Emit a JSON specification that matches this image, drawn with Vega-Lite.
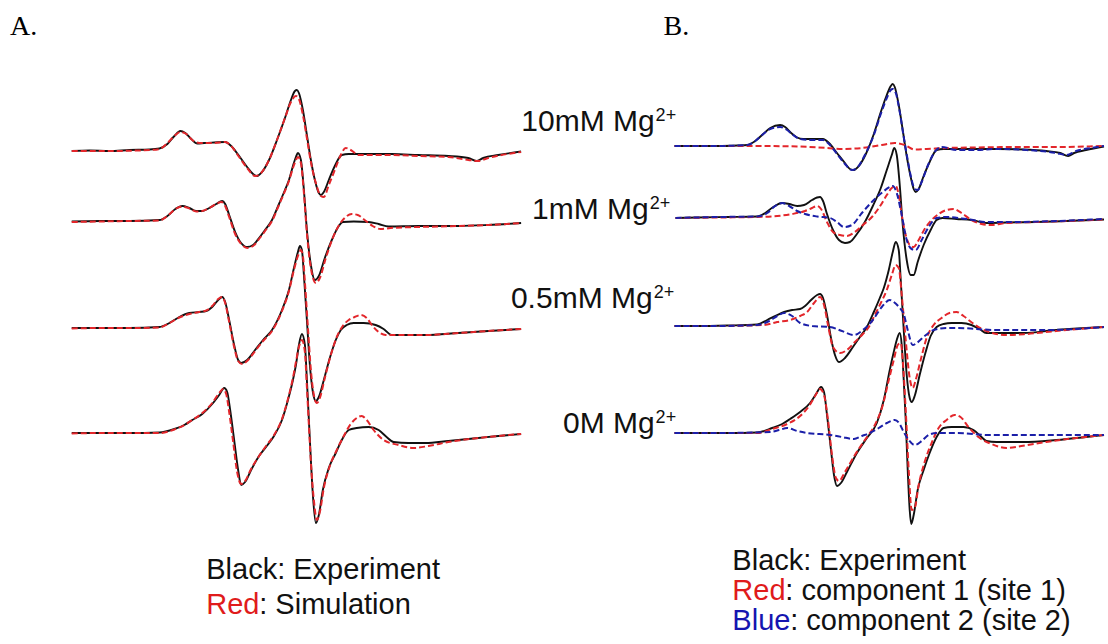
{
"$schema": "https://vega.github.io/schema/vega-lite/v6.json",
"width": 1108, "height": 644, "padding": 0,
"autosize": {"type": "fit", "contains": "padding"},
"background": "white",
"config": {"view": {"stroke": null}},
"datasets": {
"lines": [
{"s":"A10","t":"e","x":72,"y":151},{"s":"A10","t":"e","x":90,"y":150.5},{"s":"A10","t":"e","x":110,"y":151},{"s":"A10","t":"e","x":130,"y":150},{"s":"A10","t":"e","x":150,"y":149.5},{"s":"A10","t":"e","x":160,"y":148.5},{"s":"A10","t":"e","x":168,"y":144},{"s":"A10","t":"e","x":175,"y":136},{"s":"A10","t":"e","x":181,"y":131},{"s":"A10","t":"e","x":186,"y":133},{"s":"A10","t":"e","x":192,"y":139},{"s":"A10","t":"e","x":198,"y":143.5},{"s":"A10","t":"e","x":205,"y":143},{"s":"A10","t":"e","x":215,"y":142.5},{"s":"A10","t":"e","x":226,"y":142},{"s":"A10","t":"e","x":232,"y":146},{"s":"A10","t":"e","x":240,"y":156},{"s":"A10","t":"e","x":248,"y":167},{"s":"A10","t":"e","x":254,"y":174},{"s":"A10","t":"e","x":258,"y":176},{"s":"A10","t":"e","x":263,"y":172},{"s":"A10","t":"e","x":270,"y":160},{"s":"A10","t":"e","x":278,"y":140},{"s":"A10","t":"e","x":286,"y":118},{"s":"A10","t":"e","x":292,"y":100},{"s":"A10","t":"e","x":296,"y":91},{"s":"A10","t":"e","x":298,"y":90},{"s":"A10","t":"e","x":300,"y":93},{"s":"A10","t":"e","x":304,"y":110},{"s":"A10","t":"e","x":308,"y":135},{"s":"A10","t":"e","x":312,"y":160},{"s":"A10","t":"e","x":316,"y":180},{"s":"A10","t":"e","x":320,"y":193},{"s":"A10","t":"e","x":322,"y":195},{"s":"A10","t":"e","x":325,"y":192},{"s":"A10","t":"e","x":330,"y":180},{"s":"A10","t":"e","x":336,"y":166},{"s":"A10","t":"e","x":343,"y":155},{"s":"A10","t":"e","x":350,"y":154},{"s":"A10","t":"e","x":370,"y":154},{"s":"A10","t":"e","x":393,"y":154},{"s":"A10","t":"e","x":420,"y":155},{"s":"A10","t":"e","x":450,"y":156},{"s":"A10","t":"e","x":470,"y":158},{"s":"A10","t":"e","x":478,"y":161},{"s":"A10","t":"e","x":485,"y":158},{"s":"A10","t":"e","x":500,"y":155},{"s":"A10","t":"e","x":523,"y":151.5},
{"s":"A10","t":"s","x":72,"y":151},{"s":"A10","t":"s","x":110,"y":151},{"s":"A10","t":"s","x":150,"y":150},{"s":"A10","t":"s","x":160,"y":149},{"s":"A10","t":"s","x":168,"y":143},{"s":"A10","t":"s","x":175,"y":136},{"s":"A10","t":"s","x":181,"y":132},{"s":"A10","t":"s","x":187,"y":134},{"s":"A10","t":"s","x":193,"y":140},{"s":"A10","t":"s","x":200,"y":143},{"s":"A10","t":"s","x":215,"y":143},{"s":"A10","t":"s","x":226,"y":142},{"s":"A10","t":"s","x":232,"y":146},{"s":"A10","t":"s","x":240,"y":157},{"s":"A10","t":"s","x":248,"y":168},{"s":"A10","t":"s","x":256,"y":176},{"s":"A10","t":"s","x":262,"y":173},{"s":"A10","t":"s","x":270,"y":160},{"s":"A10","t":"s","x":278,"y":140},{"s":"A10","t":"s","x":286,"y":118},{"s":"A10","t":"s","x":292,"y":102},{"s":"A10","t":"s","x":297,"y":96},{"s":"A10","t":"s","x":300,"y":99},{"s":"A10","t":"s","x":304,"y":115},{"s":"A10","t":"s","x":308,"y":138},{"s":"A10","t":"s","x":312,"y":162},{"s":"A10","t":"s","x":317,"y":183},{"s":"A10","t":"s","x":322,"y":196},{"s":"A10","t":"s","x":325,"y":197},{"s":"A10","t":"s","x":330,"y":185},{"s":"A10","t":"s","x":336,"y":170},{"s":"A10","t":"s","x":342,"y":155},{"s":"A10","t":"s","x":347,"y":148},{"s":"A10","t":"s","x":352,"y":150},{"s":"A10","t":"s","x":360,"y":155},{"s":"A10","t":"s","x":390,"y":155},{"s":"A10","t":"s","x":420,"y":156},{"s":"A10","t":"s","x":450,"y":157},{"s":"A10","t":"s","x":470,"y":160},{"s":"A10","t":"s","x":480,"y":161},{"s":"A10","t":"s","x":490,"y":158},{"s":"A10","t":"s","x":523,"y":152},
{"s":"A1","t":"e","x":72,"y":221.5},{"s":"A1","t":"e","x":100,"y":221},{"s":"A1","t":"e","x":130,"y":221},{"s":"A1","t":"e","x":160,"y":220},{"s":"A1","t":"e","x":168,"y":216},{"s":"A1","t":"e","x":176,"y":209},{"s":"A1","t":"e","x":183,"y":206},{"s":"A1","t":"e","x":190,"y":208},{"s":"A1","t":"e","x":197,"y":211},{"s":"A1","t":"e","x":203,"y":211},{"s":"A1","t":"e","x":210,"y":208},{"s":"A1","t":"e","x":217,"y":204},{"s":"A1","t":"e","x":223,"y":201},{"s":"A1","t":"e","x":226,"y":204},{"s":"A1","t":"e","x":230,"y":215},{"s":"A1","t":"e","x":236,"y":232},{"s":"A1","t":"e","x":242,"y":243},{"s":"A1","t":"e","x":248,"y":247},{"s":"A1","t":"e","x":254,"y":245},{"s":"A1","t":"e","x":260,"y":238},{"s":"A1","t":"e","x":266,"y":230},{"s":"A1","t":"e","x":273,"y":220},{"s":"A1","t":"e","x":280,"y":204},{"s":"A1","t":"e","x":286,"y":190},{"s":"A1","t":"e","x":290,"y":180},{"s":"A1","t":"e","x":294,"y":166},{"s":"A1","t":"e","x":297,"y":157},{"s":"A1","t":"e","x":299,"y":153},{"s":"A1","t":"e","x":302,"y":160},{"s":"A1","t":"e","x":305,"y":190},{"s":"A1","t":"e","x":308,"y":230},{"s":"A1","t":"e","x":312,"y":265},{"s":"A1","t":"e","x":316,"y":280},{"s":"A1","t":"e","x":320,"y":276},{"s":"A1","t":"e","x":326,"y":258},{"s":"A1","t":"e","x":333,"y":240},{"s":"A1","t":"e","x":340,"y":226},{"s":"A1","t":"e","x":344,"y":222},{"s":"A1","t":"e","x":355,"y":221.5},{"s":"A1","t":"e","x":370,"y":222},{"s":"A1","t":"e","x":380,"y":224},{"s":"A1","t":"e","x":390,"y":226.5},{"s":"A1","t":"e","x":420,"y":226},{"s":"A1","t":"e","x":460,"y":226},{"s":"A1","t":"e","x":490,"y":225},{"s":"A1","t":"e","x":523,"y":223},
{"s":"A1","t":"s","x":72,"y":222},{"s":"A1","t":"s","x":100,"y":221.5},{"s":"A1","t":"s","x":130,"y":221},{"s":"A1","t":"s","x":160,"y":220.5},{"s":"A1","t":"s","x":168,"y":216},{"s":"A1","t":"s","x":176,"y":209},{"s":"A1","t":"s","x":183,"y":206.5},{"s":"A1","t":"s","x":190,"y":208.5},{"s":"A1","t":"s","x":197,"y":211.5},{"s":"A1","t":"s","x":203,"y":211},{"s":"A1","t":"s","x":210,"y":208},{"s":"A1","t":"s","x":217,"y":204},{"s":"A1","t":"s","x":222,"y":202},{"s":"A1","t":"s","x":226,"y":206},{"s":"A1","t":"s","x":230,"y":217},{"s":"A1","t":"s","x":236,"y":234},{"s":"A1","t":"s","x":242,"y":244},{"s":"A1","t":"s","x":248,"y":248},{"s":"A1","t":"s","x":254,"y":246},{"s":"A1","t":"s","x":260,"y":239},{"s":"A1","t":"s","x":266,"y":231},{"s":"A1","t":"s","x":273,"y":221},{"s":"A1","t":"s","x":280,"y":205},{"s":"A1","t":"s","x":286,"y":191},{"s":"A1","t":"s","x":290,"y":181},{"s":"A1","t":"s","x":294,"y":168},{"s":"A1","t":"s","x":297,"y":160},{"s":"A1","t":"s","x":299,"y":157},{"s":"A1","t":"s","x":302,"y":163},{"s":"A1","t":"s","x":305,"y":193},{"s":"A1","t":"s","x":308,"y":233},{"s":"A1","t":"s","x":312,"y":268},{"s":"A1","t":"s","x":317,"y":283},{"s":"A1","t":"s","x":321,"y":278},{"s":"A1","t":"s","x":327,"y":258},{"s":"A1","t":"s","x":334,"y":238},{"s":"A1","t":"s","x":341,"y":224},{"s":"A1","t":"s","x":347,"y":217},{"s":"A1","t":"s","x":353,"y":214},{"s":"A1","t":"s","x":359,"y":215},{"s":"A1","t":"s","x":366,"y":220},{"s":"A1","t":"s","x":374,"y":226},{"s":"A1","t":"s","x":382,"y":229},{"s":"A1","t":"s","x":392,"y":228},{"s":"A1","t":"s","x":420,"y":227},{"s":"A1","t":"s","x":460,"y":226},{"s":"A1","t":"s","x":490,"y":225},{"s":"A1","t":"s","x":523,"y":223},
{"s":"A05","t":"e","x":72,"y":328},{"s":"A05","t":"e","x":100,"y":328},{"s":"A05","t":"e","x":130,"y":328},{"s":"A05","t":"e","x":160,"y":327},{"s":"A05","t":"e","x":170,"y":323},{"s":"A05","t":"e","x":180,"y":317},{"s":"A05","t":"e","x":190,"y":313},{"s":"A05","t":"e","x":200,"y":312},{"s":"A05","t":"e","x":207,"y":311},{"s":"A05","t":"e","x":213,"y":307},{"s":"A05","t":"e","x":219,"y":300},{"s":"A05","t":"e","x":223,"y":297},{"s":"A05","t":"e","x":226,"y":302},{"s":"A05","t":"e","x":230,"y":320},{"s":"A05","t":"e","x":235,"y":345},{"s":"A05","t":"e","x":239,"y":360},{"s":"A05","t":"e","x":242,"y":363},{"s":"A05","t":"e","x":248,"y":360},{"s":"A05","t":"e","x":256,"y":350},{"s":"A05","t":"e","x":264,"y":340},{"s":"A05","t":"e","x":273,"y":330},{"s":"A05","t":"e","x":283,"y":310},{"s":"A05","t":"e","x":290,"y":290},{"s":"A05","t":"e","x":295,"y":268},{"s":"A05","t":"e","x":299,"y":252},{"s":"A05","t":"e","x":301,"y":246},{"s":"A05","t":"e","x":303,"y":250},{"s":"A05","t":"e","x":305,"y":275},{"s":"A05","t":"e","x":308,"y":320},{"s":"A05","t":"e","x":311,"y":365},{"s":"A05","t":"e","x":314,"y":392},{"s":"A05","t":"e","x":317,"y":401},{"s":"A05","t":"e","x":320,"y":397},{"s":"A05","t":"e","x":325,"y":380},{"s":"A05","t":"e","x":331,"y":358},{"s":"A05","t":"e","x":337,"y":340},{"s":"A05","t":"e","x":342,"y":330},{"s":"A05","t":"e","x":348,"y":325},{"s":"A05","t":"e","x":355,"y":323},{"s":"A05","t":"e","x":365,"y":323},{"s":"A05","t":"e","x":377,"y":325},{"s":"A05","t":"e","x":385,"y":329},{"s":"A05","t":"e","x":393,"y":335},{"s":"A05","t":"e","x":410,"y":335},{"s":"A05","t":"e","x":427,"y":335},{"s":"A05","t":"e","x":460,"y":333},{"s":"A05","t":"e","x":490,"y":331},{"s":"A05","t":"e","x":523,"y":329},
{"s":"A05","t":"s","x":72,"y":328.5},{"s":"A05","t":"s","x":100,"y":328},{"s":"A05","t":"s","x":130,"y":328},{"s":"A05","t":"s","x":160,"y":327.5},{"s":"A05","t":"s","x":170,"y":323},{"s":"A05","t":"s","x":180,"y":317.5},{"s":"A05","t":"s","x":190,"y":314},{"s":"A05","t":"s","x":200,"y":312},{"s":"A05","t":"s","x":207,"y":310.5},{"s":"A05","t":"s","x":213,"y":306},{"s":"A05","t":"s","x":219,"y":299},{"s":"A05","t":"s","x":223,"y":297},{"s":"A05","t":"s","x":226,"y":303},{"s":"A05","t":"s","x":230,"y":322},{"s":"A05","t":"s","x":235,"y":347},{"s":"A05","t":"s","x":239,"y":361},{"s":"A05","t":"s","x":243,"y":364},{"s":"A05","t":"s","x":249,"y":360},{"s":"A05","t":"s","x":256,"y":351},{"s":"A05","t":"s","x":264,"y":341},{"s":"A05","t":"s","x":273,"y":331},{"s":"A05","t":"s","x":283,"y":311},{"s":"A05","t":"s","x":290,"y":291},{"s":"A05","t":"s","x":295,"y":270},{"s":"A05","t":"s","x":299,"y":256},{"s":"A05","t":"s","x":302,"y":250},{"s":"A05","t":"s","x":304,"y":256},{"s":"A05","t":"s","x":306,"y":282},{"s":"A05","t":"s","x":309,"y":327},{"s":"A05","t":"s","x":312,"y":370},{"s":"A05","t":"s","x":315,"y":395},{"s":"A05","t":"s","x":318,"y":403},{"s":"A05","t":"s","x":321,"y":398},{"s":"A05","t":"s","x":326,"y":378},{"s":"A05","t":"s","x":332,"y":355},{"s":"A05","t":"s","x":338,"y":337},{"s":"A05","t":"s","x":344,"y":326},{"s":"A05","t":"s","x":350,"y":320},{"s":"A05","t":"s","x":356,"y":317},{"s":"A05","t":"s","x":362,"y":315},{"s":"A05","t":"s","x":368,"y":318},{"s":"A05","t":"s","x":374,"y":326},{"s":"A05","t":"s","x":380,"y":332},{"s":"A05","t":"s","x":387,"y":335},{"s":"A05","t":"s","x":400,"y":335},{"s":"A05","t":"s","x":427,"y":335},{"s":"A05","t":"s","x":460,"y":333},{"s":"A05","t":"s","x":490,"y":331},{"s":"A05","t":"s","x":523,"y":329},
{"s":"A0","t":"e","x":72,"y":433},{"s":"A0","t":"e","x":100,"y":433},{"s":"A0","t":"e","x":130,"y":433},{"s":"A0","t":"e","x":160,"y":432.5},{"s":"A0","t":"e","x":175,"y":429},{"s":"A0","t":"e","x":185,"y":425},{"s":"A0","t":"e","x":193,"y":420},{"s":"A0","t":"e","x":203,"y":414},{"s":"A0","t":"e","x":213,"y":404},{"s":"A0","t":"e","x":220,"y":395},{"s":"A0","t":"e","x":225,"y":388},{"s":"A0","t":"e","x":228,"y":392},{"s":"A0","t":"e","x":231,"y":410},{"s":"A0","t":"e","x":235,"y":440},{"s":"A0","t":"e","x":239,"y":470},{"s":"A0","t":"e","x":242,"y":485},{"s":"A0","t":"e","x":246,"y":482},{"s":"A0","t":"e","x":252,"y":470},{"s":"A0","t":"e","x":260,"y":456},{"s":"A0","t":"e","x":267,"y":447},{"s":"A0","t":"e","x":275,"y":436},{"s":"A0","t":"e","x":283,"y":420},{"s":"A0","t":"e","x":289,"y":400},{"s":"A0","t":"e","x":294,"y":380},{"s":"A0","t":"e","x":297,"y":365},{"s":"A0","t":"e","x":300,"y":345},{"s":"A0","t":"e","x":303,"y":334},{"s":"A0","t":"e","x":306,"y":345},{"s":"A0","t":"e","x":308,"y":380},{"s":"A0","t":"e","x":310,"y":420},{"s":"A0","t":"e","x":312,"y":460},{"s":"A0","t":"e","x":314,"y":495},{"s":"A0","t":"e","x":317,"y":523},{"s":"A0","t":"e","x":320,"y":515},{"s":"A0","t":"e","x":324,"y":490},{"s":"A0","t":"e","x":330,"y":468},{"s":"A0","t":"e","x":337,"y":453},{"s":"A0","t":"e","x":343,"y":440},{"s":"A0","t":"e","x":350,"y":430},{"s":"A0","t":"e","x":358,"y":428},{"s":"A0","t":"e","x":370,"y":427},{"s":"A0","t":"e","x":380,"y":430},{"s":"A0","t":"e","x":388,"y":437},{"s":"A0","t":"e","x":395,"y":442},{"s":"A0","t":"e","x":410,"y":443},{"s":"A0","t":"e","x":427,"y":443},{"s":"A0","t":"e","x":450,"y":441},{"s":"A0","t":"e","x":480,"y":438},{"s":"A0","t":"e","x":500,"y":436},{"s":"A0","t":"e","x":523,"y":434},
{"s":"A0","t":"s","x":72,"y":433.5},{"s":"A0","t":"s","x":100,"y":433},{"s":"A0","t":"s","x":130,"y":433},{"s":"A0","t":"s","x":160,"y":433},{"s":"A0","t":"s","x":175,"y":429.5},{"s":"A0","t":"s","x":185,"y":425},{"s":"A0","t":"s","x":193,"y":420},{"s":"A0","t":"s","x":203,"y":413},{"s":"A0","t":"s","x":213,"y":403},{"s":"A0","t":"s","x":220,"y":393},{"s":"A0","t":"s","x":224,"y":389},{"s":"A0","t":"s","x":227,"y":394},{"s":"A0","t":"s","x":230,"y":412},{"s":"A0","t":"s","x":234,"y":442},{"s":"A0","t":"s","x":238,"y":472},{"s":"A0","t":"s","x":242,"y":484},{"s":"A0","t":"s","x":246,"y":481},{"s":"A0","t":"s","x":252,"y":469},{"s":"A0","t":"s","x":260,"y":456},{"s":"A0","t":"s","x":267,"y":446},{"s":"A0","t":"s","x":275,"y":435},{"s":"A0","t":"s","x":283,"y":419},{"s":"A0","t":"s","x":289,"y":399},{"s":"A0","t":"s","x":294,"y":378},{"s":"A0","t":"s","x":297,"y":362},{"s":"A0","t":"s","x":300,"y":347},{"s":"A0","t":"s","x":303,"y":340},{"s":"A0","t":"s","x":306,"y":352},{"s":"A0","t":"s","x":308,"y":387},{"s":"A0","t":"s","x":310,"y":425},{"s":"A0","t":"s","x":312,"y":462},{"s":"A0","t":"s","x":315,"y":500},{"s":"A0","t":"s","x":318,"y":520},{"s":"A0","t":"s","x":321,"y":512},{"s":"A0","t":"s","x":325,"y":488},{"s":"A0","t":"s","x":331,"y":466},{"s":"A0","t":"s","x":338,"y":450},{"s":"A0","t":"s","x":345,"y":436},{"s":"A0","t":"s","x":352,"y":424},{"s":"A0","t":"s","x":358,"y":418},{"s":"A0","t":"s","x":363,"y":416},{"s":"A0","t":"s","x":368,"y":420},{"s":"A0","t":"s","x":375,"y":430},{"s":"A0","t":"s","x":385,"y":440},{"s":"A0","t":"s","x":400,"y":445},{"s":"A0","t":"s","x":415,"y":448},{"s":"A0","t":"s","x":430,"y":446},{"s":"A0","t":"s","x":450,"y":442},{"s":"A0","t":"s","x":480,"y":438},{"s":"A0","t":"s","x":500,"y":436},{"s":"A0","t":"s","x":523,"y":434},
{"s":"B10","t":"e","x":677,"y":146},{"s":"B10","t":"e","x":700,"y":146},{"s":"B10","t":"e","x":720,"y":146},{"s":"B10","t":"e","x":740,"y":145.5},{"s":"B10","t":"e","x":750,"y":145},{"s":"B10","t":"e","x":758,"y":141},{"s":"B10","t":"e","x":766,"y":134},{"s":"B10","t":"e","x":773,"y":128},{"s":"B10","t":"e","x":783,"y":125},{"s":"B10","t":"e","x":788,"y":127},{"s":"B10","t":"e","x":794,"y":133},{"s":"B10","t":"e","x":800,"y":137.5},{"s":"B10","t":"e","x":806,"y":139},{"s":"B10","t":"e","x":815,"y":139},{"s":"B10","t":"e","x":826,"y":139},{"s":"B10","t":"e","x":832,"y":143},{"s":"B10","t":"e","x":840,"y":153},{"s":"B10","t":"e","x":848,"y":163},{"s":"B10","t":"e","x":853,"y":169},{"s":"B10","t":"e","x":857,"y":170},{"s":"B10","t":"e","x":862,"y":166},{"s":"B10","t":"e","x":869,"y":154},{"s":"B10","t":"e","x":877,"y":134},{"s":"B10","t":"e","x":884,"y":112},{"s":"B10","t":"e","x":890,"y":95},{"s":"B10","t":"e","x":894,"y":86},{"s":"B10","t":"e","x":896,"y":84},{"s":"B10","t":"e","x":898,"y":87},{"s":"B10","t":"e","x":902,"y":105},{"s":"B10","t":"e","x":906,"y":130},{"s":"B10","t":"e","x":910,"y":156},{"s":"B10","t":"e","x":914,"y":177},{"s":"B10","t":"e","x":917,"y":189},{"s":"B10","t":"e","x":919,"y":192},{"s":"B10","t":"e","x":922,"y":189},{"s":"B10","t":"e","x":927,"y":176},{"s":"B10","t":"e","x":933,"y":162},{"s":"B10","t":"e","x":940,"y":150},{"s":"B10","t":"e","x":947,"y":149},{"s":"B10","t":"e","x":960,"y":149},{"s":"B10","t":"e","x":980,"y":149},{"s":"B10","t":"e","x":1000,"y":149},{"s":"B10","t":"e","x":1027,"y":149.5},{"s":"B10","t":"e","x":1050,"y":151},{"s":"B10","t":"e","x":1064,"y":153},{"s":"B10","t":"e","x":1072,"y":156},{"s":"B10","t":"e","x":1078,"y":153},{"s":"B10","t":"e","x":1090,"y":150},{"s":"B10","t":"e","x":1108,"y":146.5},
{"s":"B10","t":"b","x":677,"y":146},{"s":"B10","t":"b","x":720,"y":146},{"s":"B10","t":"b","x":750,"y":145},{"s":"B10","t":"b","x":758,"y":141},{"s":"B10","t":"b","x":766,"y":134},{"s":"B10","t":"b","x":773,"y":129},{"s":"B10","t":"b","x":783,"y":127},{"s":"B10","t":"b","x":790,"y":130},{"s":"B10","t":"b","x":796,"y":135},{"s":"B10","t":"b","x":803,"y":139},{"s":"B10","t":"b","x":815,"y":140},{"s":"B10","t":"b","x":826,"y":140},{"s":"B10","t":"b","x":832,"y":144},{"s":"B10","t":"b","x":840,"y":154},{"s":"B10","t":"b","x":848,"y":164},{"s":"B10","t":"b","x":855,"y":170},{"s":"B10","t":"b","x":860,"y":168},{"s":"B10","t":"b","x":868,"y":155},{"s":"B10","t":"b","x":877,"y":135},{"s":"B10","t":"b","x":884,"y":114},{"s":"B10","t":"b","x":890,"y":98},{"s":"B10","t":"b","x":894,"y":90},{"s":"B10","t":"b","x":896,"y":89},{"s":"B10","t":"b","x":899,"y":93},{"s":"B10","t":"b","x":903,"y":112},{"s":"B10","t":"b","x":907,"y":137},{"s":"B10","t":"b","x":911,"y":160},{"s":"B10","t":"b","x":915,"y":180},{"s":"B10","t":"b","x":918,"y":189},{"s":"B10","t":"b","x":921,"y":190},{"s":"B10","t":"b","x":925,"y":182},{"s":"B10","t":"b","x":931,"y":166},{"s":"B10","t":"b","x":938,"y":152},{"s":"B10","t":"b","x":945,"y":147},{"s":"B10","t":"b","x":960,"y":150},{"s":"B10","t":"b","x":980,"y":150},{"s":"B10","t":"b","x":1000,"y":149},{"s":"B10","t":"b","x":1030,"y":150},{"s":"B10","t":"b","x":1060,"y":153},{"s":"B10","t":"b","x":1070,"y":155},{"s":"B10","t":"b","x":1080,"y":151},{"s":"B10","t":"b","x":1095,"y":148},{"s":"B10","t":"b","x":1108,"y":146},
{"s":"B10","t":"s","x":677,"y":146},{"s":"B10","t":"s","x":720,"y":146},{"s":"B10","t":"s","x":760,"y":146},{"s":"B10","t":"s","x":800,"y":146.5},{"s":"B10","t":"s","x":830,"y":148},{"s":"B10","t":"s","x":845,"y":149},{"s":"B10","t":"s","x":865,"y":148},{"s":"B10","t":"s","x":885,"y":145},{"s":"B10","t":"s","x":898,"y":143},{"s":"B10","t":"s","x":908,"y":145},{"s":"B10","t":"s","x":918,"y":149.5},{"s":"B10","t":"s","x":930,"y":149},{"s":"B10","t":"s","x":950,"y":148},{"s":"B10","t":"s","x":980,"y":147.5},{"s":"B10","t":"s","x":1020,"y":147},{"s":"B10","t":"s","x":1060,"y":147},{"s":"B10","t":"s","x":1108,"y":146},
{"s":"B1","t":"e","x":678,"y":218},{"s":"B1","t":"e","x":700,"y":217.5},{"s":"B1","t":"e","x":730,"y":217},{"s":"B1","t":"e","x":760,"y":216.5},{"s":"B1","t":"e","x":768,"y":213},{"s":"B1","t":"e","x":776,"y":207},{"s":"B1","t":"e","x":785,"y":203},{"s":"B1","t":"e","x":792,"y":204},{"s":"B1","t":"e","x":800,"y":206},{"s":"B1","t":"e","x":807,"y":205},{"s":"B1","t":"e","x":815,"y":200},{"s":"B1","t":"e","x":820,"y":197.5},{"s":"B1","t":"e","x":823,"y":197},{"s":"B1","t":"e","x":826,"y":201},{"s":"B1","t":"e","x":830,"y":214},{"s":"B1","t":"e","x":836,"y":230},{"s":"B1","t":"e","x":842,"y":240},{"s":"B1","t":"e","x":848,"y":243},{"s":"B1","t":"e","x":853,"y":242},{"s":"B1","t":"e","x":860,"y":234},{"s":"B1","t":"e","x":868,"y":222},{"s":"B1","t":"e","x":876,"y":206},{"s":"B1","t":"e","x":884,"y":188},{"s":"B1","t":"e","x":890,"y":170},{"s":"B1","t":"e","x":895,"y":155},{"s":"B1","t":"e","x":897.5,"y":148},{"s":"B1","t":"e","x":900,"y":155},{"s":"B1","t":"e","x":903,"y":185},{"s":"B1","t":"e","x":906,"y":225},{"s":"B1","t":"e","x":910,"y":260},{"s":"B1","t":"e","x":914,"y":275},{"s":"B1","t":"e","x":917,"y":275},{"s":"B1","t":"e","x":921,"y":262},{"s":"B1","t":"e","x":927,"y":245},{"s":"B1","t":"e","x":934,"y":230},{"s":"B1","t":"e","x":940,"y":220},{"s":"B1","t":"e","x":946,"y":218},{"s":"B1","t":"e","x":960,"y":219},{"s":"B1","t":"e","x":975,"y":220},{"s":"B1","t":"e","x":990,"y":223},{"s":"B1","t":"e","x":1010,"y":222.5},{"s":"B1","t":"e","x":1040,"y":222},{"s":"B1","t":"e","x":1070,"y":221},{"s":"B1","t":"e","x":1108,"y":219.5},
{"s":"B1","t":"b","x":678,"y":218},{"s":"B1","t":"b","x":720,"y":217},{"s":"B1","t":"b","x":760,"y":216.5},{"s":"B1","t":"b","x":770,"y":213},{"s":"B1","t":"b","x":778,"y":206},{"s":"B1","t":"b","x":785,"y":203},{"s":"B1","t":"b","x":792,"y":206},{"s":"B1","t":"b","x":800,"y":211},{"s":"B1","t":"b","x":808,"y":214},{"s":"B1","t":"b","x":820,"y":216.5},{"s":"B1","t":"b","x":833,"y":218},{"s":"B1","t":"b","x":840,"y":222},{"s":"B1","t":"b","x":847,"y":227},{"s":"B1","t":"b","x":855,"y":225},{"s":"B1","t":"b","x":865,"y":213},{"s":"B1","t":"b","x":877,"y":200},{"s":"B1","t":"b","x":886,"y":192},{"s":"B1","t":"b","x":893,"y":187},{"s":"B1","t":"b","x":896,"y":186},{"s":"B1","t":"b","x":900,"y":193},{"s":"B1","t":"b","x":905,"y":215},{"s":"B1","t":"b","x":910,"y":240},{"s":"B1","t":"b","x":915,"y":249},{"s":"B1","t":"b","x":919,"y":250},{"s":"B1","t":"b","x":925,"y":240},{"s":"B1","t":"b","x":932,"y":227},{"s":"B1","t":"b","x":940,"y":218},{"s":"B1","t":"b","x":950,"y":217},{"s":"B1","t":"b","x":970,"y":219},{"s":"B1","t":"b","x":990,"y":222},{"s":"B1","t":"b","x":1020,"y":222},{"s":"B1","t":"b","x":1060,"y":221},{"s":"B1","t":"b","x":1108,"y":219},
{"s":"B1","t":"s","x":678,"y":218},{"s":"B1","t":"s","x":720,"y":217.5},{"s":"B1","t":"s","x":760,"y":217},{"s":"B1","t":"s","x":780,"y":216},{"s":"B1","t":"s","x":795,"y":214},{"s":"B1","t":"s","x":808,"y":211},{"s":"B1","t":"s","x":815,"y":208},{"s":"B1","t":"s","x":820,"y":206},{"s":"B1","t":"s","x":824,"y":209},{"s":"B1","t":"s","x":830,"y":222},{"s":"B1","t":"s","x":836,"y":232},{"s":"B1","t":"s","x":843,"y":235},{"s":"B1","t":"s","x":850,"y":236},{"s":"B1","t":"s","x":858,"y":232},{"s":"B1","t":"s","x":866,"y":225},{"s":"B1","t":"s","x":876,"y":216},{"s":"B1","t":"s","x":884,"y":205},{"s":"B1","t":"s","x":890,"y":195},{"s":"B1","t":"s","x":895,"y":188},{"s":"B1","t":"s","x":899,"y":186},{"s":"B1","t":"s","x":902,"y":195},{"s":"B1","t":"s","x":905,"y":215},{"s":"B1","t":"s","x":909,"y":235},{"s":"B1","t":"s","x":913,"y":245},{"s":"B1","t":"s","x":917,"y":247},{"s":"B1","t":"s","x":922,"y":240},{"s":"B1","t":"s","x":928,"y":229},{"s":"B1","t":"s","x":935,"y":220},{"s":"B1","t":"s","x":942,"y":214},{"s":"B1","t":"s","x":950,"y":210},{"s":"B1","t":"s","x":957,"y":209},{"s":"B1","t":"s","x":965,"y":213},{"s":"B1","t":"s","x":975,"y":220},{"s":"B1","t":"s","x":985,"y":224},{"s":"B1","t":"s","x":995,"y":225},{"s":"B1","t":"s","x":1010,"y":223},{"s":"B1","t":"s","x":1040,"y":222},{"s":"B1","t":"s","x":1070,"y":221},{"s":"B1","t":"s","x":1108,"y":219.5},
{"s":"B05","t":"e","x":677,"y":326},{"s":"B05","t":"e","x":700,"y":326},{"s":"B05","t":"e","x":730,"y":325.5},{"s":"B05","t":"e","x":760,"y":324.5},{"s":"B05","t":"e","x":770,"y":320},{"s":"B05","t":"e","x":780,"y":315},{"s":"B05","t":"e","x":787,"y":312},{"s":"B05","t":"e","x":795,"y":310},{"s":"B05","t":"e","x":803,"y":309},{"s":"B05","t":"e","x":808,"y":306},{"s":"B05","t":"e","x":814,"y":300},{"s":"B05","t":"e","x":820,"y":295},{"s":"B05","t":"e","x":823,"y":294},{"s":"B05","t":"e","x":826,"y":298},{"s":"B05","t":"e","x":830,"y":315},{"s":"B05","t":"e","x":834,"y":338},{"s":"B05","t":"e","x":838,"y":355},{"s":"B05","t":"e","x":842,"y":362},{"s":"B05","t":"e","x":848,"y":358},{"s":"B05","t":"e","x":856,"y":347},{"s":"B05","t":"e","x":863,"y":337},{"s":"B05","t":"e","x":870,"y":327},{"s":"B05","t":"e","x":877,"y":312},{"s":"B05","t":"e","x":883,"y":298},{"s":"B05","t":"e","x":887,"y":288},{"s":"B05","t":"e","x":892,"y":270},{"s":"B05","t":"e","x":896,"y":252},{"s":"B05","t":"e","x":899,"y":242},{"s":"B05","t":"e","x":902,"y":250},{"s":"B05","t":"e","x":904,"y":280},{"s":"B05","t":"e","x":907,"y":330},{"s":"B05","t":"e","x":910,"y":375},{"s":"B05","t":"e","x":913,"y":398},{"s":"B05","t":"e","x":915,"y":402},{"s":"B05","t":"e","x":918,"y":396},{"s":"B05","t":"e","x":923,"y":375},{"s":"B05","t":"e","x":929,"y":352},{"s":"B05","t":"e","x":934,"y":336},{"s":"B05","t":"e","x":940,"y":327},{"s":"B05","t":"e","x":947,"y":324},{"s":"B05","t":"e","x":955,"y":323},{"s":"B05","t":"e","x":965,"y":323},{"s":"B05","t":"e","x":975,"y":325},{"s":"B05","t":"e","x":983,"y":329},{"s":"B05","t":"e","x":990,"y":333},{"s":"B05","t":"e","x":1010,"y":333},{"s":"B05","t":"e","x":1027,"y":333},{"s":"B05","t":"e","x":1060,"y":330},{"s":"B05","t":"e","x":1090,"y":328},{"s":"B05","t":"e","x":1108,"y":327},
{"s":"B05","t":"b","x":677,"y":326},{"s":"B05","t":"b","x":720,"y":326},{"s":"B05","t":"b","x":760,"y":325},{"s":"B05","t":"b","x":772,"y":321},{"s":"B05","t":"b","x":780,"y":316},{"s":"B05","t":"b","x":787,"y":313},{"s":"B05","t":"b","x":795,"y":316},{"s":"B05","t":"b","x":803,"y":323},{"s":"B05","t":"b","x":815,"y":326},{"s":"B05","t":"b","x":833,"y":327},{"s":"B05","t":"b","x":845,"y":331},{"s":"B05","t":"b","x":857,"y":335},{"s":"B05","t":"b","x":866,"y":330},{"s":"B05","t":"b","x":876,"y":320},{"s":"B05","t":"b","x":885,"y":307},{"s":"B05","t":"b","x":893,"y":300},{"s":"B05","t":"b","x":897,"y":302},{"s":"B05","t":"b","x":903,"y":308},{"s":"B05","t":"b","x":907,"y":314},{"s":"B05","t":"b","x":911,"y":330},{"s":"B05","t":"b","x":916,"y":345},{"s":"B05","t":"b","x":920,"y":343},{"s":"B05","t":"b","x":928,"y":336},{"s":"B05","t":"b","x":937,"y":330},{"s":"B05","t":"b","x":950,"y":328},{"s":"B05","t":"b","x":960,"y":328},{"s":"B05","t":"b","x":1000,"y":330},{"s":"B05","t":"b","x":1050,"y":330},{"s":"B05","t":"b","x":1108,"y":327},
{"s":"B05","t":"s","x":677,"y":326},{"s":"B05","t":"s","x":720,"y":326},{"s":"B05","t":"s","x":767,"y":325},{"s":"B05","t":"s","x":780,"y":322},{"s":"B05","t":"s","x":793,"y":320},{"s":"B05","t":"s","x":803,"y":316},{"s":"B05","t":"s","x":810,"y":312},{"s":"B05","t":"s","x":817,"y":303},{"s":"B05","t":"s","x":823,"y":297},{"s":"B05","t":"s","x":827,"y":305},{"s":"B05","t":"s","x":831,"y":325},{"s":"B05","t":"s","x":836,"y":347},{"s":"B05","t":"s","x":843,"y":353},{"s":"B05","t":"s","x":850,"y":350},{"s":"B05","t":"s","x":858,"y":342},{"s":"B05","t":"s","x":866,"y":334},{"s":"B05","t":"s","x":872,"y":327},{"s":"B05","t":"s","x":878,"y":315},{"s":"B05","t":"s","x":884,"y":303},{"s":"B05","t":"s","x":890,"y":290},{"s":"B05","t":"s","x":895,"y":275},{"s":"B05","t":"s","x":899,"y":265},{"s":"B05","t":"s","x":902,"y":268},{"s":"B05","t":"s","x":905,"y":295},{"s":"B05","t":"s","x":909,"y":340},{"s":"B05","t":"s","x":913,"y":378},{"s":"B05","t":"s","x":916,"y":388},{"s":"B05","t":"s","x":919,"y":380},{"s":"B05","t":"s","x":924,"y":360},{"s":"B05","t":"s","x":930,"y":338},{"s":"B05","t":"s","x":937,"y":325},{"s":"B05","t":"s","x":945,"y":318},{"s":"B05","t":"s","x":953,"y":313},{"s":"B05","t":"s","x":960,"y":312},{"s":"B05","t":"s","x":967,"y":316},{"s":"B05","t":"s","x":976,"y":323},{"s":"B05","t":"s","x":990,"y":331},{"s":"B05","t":"s","x":1010,"y":335},{"s":"B05","t":"s","x":1030,"y":334},{"s":"B05","t":"s","x":1060,"y":331},{"s":"B05","t":"s","x":1108,"y":327},
{"s":"B0","t":"e","x":677,"y":433},{"s":"B0","t":"e","x":700,"y":433},{"s":"B0","t":"e","x":730,"y":433},{"s":"B0","t":"e","x":760,"y":432.5},{"s":"B0","t":"e","x":775,"y":428},{"s":"B0","t":"e","x":785,"y":424},{"s":"B0","t":"e","x":793,"y":419},{"s":"B0","t":"e","x":803,"y":412},{"s":"B0","t":"e","x":813,"y":403},{"s":"B0","t":"e","x":819,"y":394},{"s":"B0","t":"e","x":824,"y":387},{"s":"B0","t":"e","x":827,"y":392},{"s":"B0","t":"e","x":830,"y":415},{"s":"B0","t":"e","x":834,"y":450},{"s":"B0","t":"e","x":837,"y":475},{"s":"B0","t":"e","x":840,"y":486},{"s":"B0","t":"e","x":844,"y":483},{"s":"B0","t":"e","x":850,"y":472},{"s":"B0","t":"e","x":860,"y":453},{"s":"B0","t":"e","x":870,"y":438},{"s":"B0","t":"e","x":880,"y":423},{"s":"B0","t":"e","x":887,"y":400},{"s":"B0","t":"e","x":893,"y":370},{"s":"B0","t":"e","x":897,"y":352},{"s":"B0","t":"e","x":900,"y":340},{"s":"B0","t":"e","x":903,"y":333},{"s":"B0","t":"e","x":905,"y":345},{"s":"B0","t":"e","x":907,"y":380},{"s":"B0","t":"e","x":909,"y":420},{"s":"B0","t":"e","x":911,"y":470},{"s":"B0","t":"e","x":913,"y":510},{"s":"B0","t":"e","x":914.5,"y":524},{"s":"B0","t":"e","x":917,"y":515},{"s":"B0","t":"e","x":921,"y":490},{"s":"B0","t":"e","x":927,"y":470},{"s":"B0","t":"e","x":933,"y":453},{"s":"B0","t":"e","x":940,"y":437},{"s":"B0","t":"e","x":947,"y":428},{"s":"B0","t":"e","x":955,"y":427},{"s":"B0","t":"e","x":967,"y":427},{"s":"B0","t":"e","x":977,"y":430},{"s":"B0","t":"e","x":985,"y":437},{"s":"B0","t":"e","x":990,"y":441},{"s":"B0","t":"e","x":1000,"y":442},{"s":"B0","t":"e","x":1027,"y":442},{"s":"B0","t":"e","x":1060,"y":440},{"s":"B0","t":"e","x":1090,"y":437},{"s":"B0","t":"e","x":1108,"y":435},
{"s":"B0","t":"b","x":677,"y":433},{"s":"B0","t":"b","x":720,"y":433},{"s":"B0","t":"b","x":773,"y":432},{"s":"B0","t":"b","x":782,"y":430},{"s":"B0","t":"b","x":790,"y":428},{"s":"B0","t":"b","x":800,"y":431},{"s":"B0","t":"b","x":810,"y":433},{"s":"B0","t":"b","x":833,"y":435},{"s":"B0","t":"b","x":845,"y":437},{"s":"B0","t":"b","x":857,"y":439},{"s":"B0","t":"b","x":865,"y":436},{"s":"B0","t":"b","x":873,"y":433},{"s":"B0","t":"b","x":882,"y":428},{"s":"B0","t":"b","x":890,"y":423},{"s":"B0","t":"b","x":898,"y":420},{"s":"B0","t":"b","x":903,"y":424},{"s":"B0","t":"b","x":907,"y":432},{"s":"B0","t":"b","x":912,"y":440},{"s":"B0","t":"b","x":918,"y":445},{"s":"B0","t":"b","x":925,"y":441},{"s":"B0","t":"b","x":932,"y":435},{"s":"B0","t":"b","x":940,"y":433},{"s":"B0","t":"b","x":960,"y":433},{"s":"B0","t":"b","x":993,"y":435},{"s":"B0","t":"b","x":1050,"y":435},{"s":"B0","t":"b","x":1108,"y":435},
{"s":"B0","t":"s","x":677,"y":433},{"s":"B0","t":"s","x":720,"y":433},{"s":"B0","t":"s","x":760,"y":433},{"s":"B0","t":"s","x":775,"y":429},{"s":"B0","t":"s","x":790,"y":424},{"s":"B0","t":"s","x":803,"y":416},{"s":"B0","t":"s","x":812,"y":406},{"s":"B0","t":"s","x":818,"y":396},{"s":"B0","t":"s","x":823,"y":389},{"s":"B0","t":"s","x":827,"y":395},{"s":"B0","t":"s","x":831,"y":420},{"s":"B0","t":"s","x":835,"y":455},{"s":"B0","t":"s","x":839,"y":478},{"s":"B0","t":"s","x":842,"y":481},{"s":"B0","t":"s","x":848,"y":472},{"s":"B0","t":"s","x":858,"y":455},{"s":"B0","t":"s","x":868,"y":440},{"s":"B0","t":"s","x":878,"y":425},{"s":"B0","t":"s","x":886,"y":405},{"s":"B0","t":"s","x":892,"y":380},{"s":"B0","t":"s","x":897,"y":360},{"s":"B0","t":"s","x":901,"y":345},{"s":"B0","t":"s","x":904,"y":343},{"s":"B0","t":"s","x":906,"y":360},{"s":"B0","t":"s","x":909,"y":410},{"s":"B0","t":"s","x":912,"y":470},{"s":"B0","t":"s","x":915,"y":510},{"s":"B0","t":"s","x":918,"y":508},{"s":"B0","t":"s","x":922,"y":485},{"s":"B0","t":"s","x":928,"y":462},{"s":"B0","t":"s","x":935,"y":443},{"s":"B0","t":"s","x":942,"y":428},{"s":"B0","t":"s","x":950,"y":420},{"s":"B0","t":"s","x":958,"y":415},{"s":"B0","t":"s","x":964,"y":417},{"s":"B0","t":"s","x":972,"y":427},{"s":"B0","t":"s","x":982,"y":437},{"s":"B0","t":"s","x":995,"y":444},{"s":"B0","t":"s","x":1010,"y":448},{"s":"B0","t":"s","x":1025,"y":446},{"s":"B0","t":"s","x":1050,"y":442},{"s":"B0","t":"s","x":1080,"y":438},{"s":"B0","t":"s","x":1108,"y":435}
],
"labels": [
{"k":"pl","x":10,"y":35,"txt":"A."},{"k":"pl","x":666,"y":35,"txt":"B."},
{"k":"mg","x":657,"y":131,"txt":"10mM Mg"},{"k":"mg","x":651,"y":219,"txt":"1mM Mg"},{"k":"mg","x":655,"y":308,"txt":"0.5mM Mg"},{"k":"mg","x":657,"y":433,"txt":"0M Mg"},
{"k":"sup","x":658,"y":121,"txt":"2+"},{"k":"sup","x":652,"y":209,"txt":"2+"},{"k":"sup","x":656,"y":298,"txt":"2+"},{"k":"sup","x":658,"y":423,"txt":"2+"},
{"k":"la","x":207,"y":579,"txt":"Black: Experiment"},{"k":"lar","x":207,"y":614,"txt":"Red"},{"k":"la","x":260.2,"y":614,"txt":": Simulation"},
{"k":"lb","x":735,"y":570,"txt":"Black: Experiment"},{"k":"lbr","x":735,"y":600,"txt":"Red"},{"k":"lb","x":788.2,"y":600,"txt":": component 1 (site 1)"},{"k":"lbb","x":735,"y":630,"txt":"Blue"},{"k":"lb","x":793,"y":630,"txt":": component 2 (site 2)"}
]
},
"encoding": {
"x": {"field": "x", "type": "quantitative", "scale": {"domain": [0, 1108], "nice": false, "zero": false}, "axis": null},
"y": {"field": "y", "type": "quantitative", "scale": {"domain": [0, 644], "nice": false, "zero": false, "reverse": true}, "axis": null}
},
"layer": [
{"data": {"name": "lines"}, "transform": [{"filter": "datum.t == 'e'"}], "mark": {"type": "line", "color": "#111111", "strokeWidth": 1.9, "interpolate": "monotone"}, "encoding": {"detail": {"field": "s"}}},
{"data": {"name": "lines"}, "transform": [{"filter": "datum.t == 's'"}], "mark": {"type": "line", "color": "#e3262b", "strokeWidth": 2, "strokeDash": [6, 3], "interpolate": "monotone"}, "encoding": {"detail": {"field": "s"}}},
{"data": {"name": "lines"}, "transform": [{"filter": "datum.t == 'b'"}], "mark": {"type": "line", "color": "#1b1fa8", "strokeWidth": 2, "strokeDash": [6, 3], "interpolate": "monotone"}, "encoding": {"detail": {"field": "s"}}},
{"data": {"name": "labels"}, "transform": [{"filter": "datum.k == 'pl'"}], "mark": {"type": "text", "font": "Liberation Serif", "fontSize": 28, "align": "left", "baseline": "alphabetic", "color": "#000000"}, "encoding": {"text": {"field": "txt"}}},
{"data": {"name": "labels"}, "transform": [{"filter": "datum.k == 'mg'"}], "mark": {"type": "text", "font": "Liberation Sans", "fontSize": 30, "align": "right", "baseline": "alphabetic", "color": "#111111"}, "encoding": {"text": {"field": "txt"}}},
{"data": {"name": "labels"}, "transform": [{"filter": "datum.k == 'sup'"}], "mark": {"type": "text", "font": "Liberation Sans", "fontSize": 18, "align": "left", "baseline": "alphabetic", "color": "#111111"}, "encoding": {"text": {"field": "txt"}}},
{"data": {"name": "labels"}, "transform": [{"filter": "datum.k == 'la'"}], "mark": {"type": "text", "font": "Liberation Sans", "fontSize": 29, "align": "left", "baseline": "alphabetic", "color": "#111111"}, "encoding": {"text": {"field": "txt"}}},
{"data": {"name": "labels"}, "transform": [{"filter": "datum.k == 'lar'"}], "mark": {"type": "text", "font": "Liberation Sans", "fontSize": 29, "align": "left", "baseline": "alphabetic", "color": "#e01b1b"}, "encoding": {"text": {"field": "txt"}}},
{"data": {"name": "labels"}, "transform": [{"filter": "datum.k == 'lb'"}], "mark": {"type": "text", "font": "Liberation Sans", "fontSize": 29, "align": "left", "baseline": "alphabetic", "color": "#111111"}, "encoding": {"text": {"field": "txt"}}},
{"data": {"name": "labels"}, "transform": [{"filter": "datum.k == 'lbr'"}], "mark": {"type": "text", "font": "Liberation Sans", "fontSize": 29, "align": "left", "baseline": "alphabetic", "color": "#e01b1b"}, "encoding": {"text": {"field": "txt"}}},
{"data": {"name": "labels"}, "transform": [{"filter": "datum.k == 'lbb'"}], "mark": {"type": "text", "font": "Liberation Sans", "fontSize": 29, "align": "left", "baseline": "alphabetic", "color": "#1515b0"}, "encoding": {"text": {"field": "txt"}}}
]
}
